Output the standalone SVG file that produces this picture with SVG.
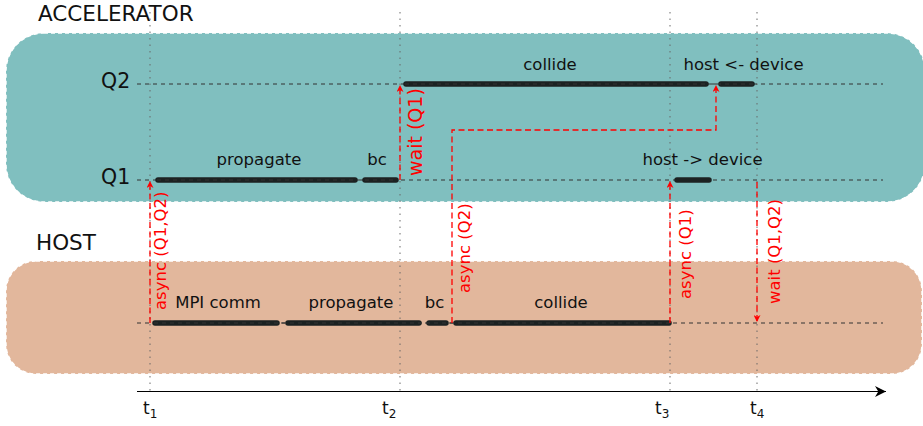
<svg xmlns="http://www.w3.org/2000/svg" width="923" height="426" viewBox="0 0 923 426">
<defs>
<marker id="ra" viewBox="0 0 10 10" refX="10" refY="5" markerWidth="9" markerHeight="7" markerUnits="userSpaceOnUse" orient="auto"><path d="M0,0 L10,5 L0,10 L3,5 Z" fill="#ff0000"/></marker>
<marker id="ka" viewBox="0 0 10 10" refX="10" refY="5" markerWidth="14" markerHeight="11" markerUnits="userSpaceOnUse" orient="auto"><path d="M0,0 L10,5 L0,10 L3,5 Z" fill="#000"/></marker>
</defs>
<style>
text{font-family:"DejaVu Sans","Liberation Sans",sans-serif;fill:#111}
.region{stroke:#fff;stroke-width:1.4;stroke-dasharray:4,3}
.lane{stroke:#333;stroke-width:1;stroke-dasharray:4,4;fill:none}
.tick{stroke:#666;stroke-opacity:0.6;stroke-width:1.6;stroke-dasharray:1.5,5;fill:none}
.bar{stroke:#1c2222;stroke-width:5.5;stroke-linecap:round;fill:none}
.sig{stroke:#ff0000;stroke-width:1.3;stroke-dasharray:6,3.5;fill:none}
.lbl{font-size:16.5px;text-anchor:middle}
.rl{font-size:16.5px;fill:#ff0000}
.big{font-size:21.5px}
.q{font-size:20.5px}
.t{font-size:17px}
.sub{font-size:12px}
</style>
<g id="accelerator">
<rect class="region" x="6" y="33" width="919" height="169" rx="38" fill="#80bfbf"/>
<text class="big" x="38" y="21">ACCELERATOR</text>
</g>
<g id="host">
<rect class="region" x="6" y="261" width="916" height="113" rx="30" fill="#e2b79c"/>
<text class="big" x="36" y="250">HOST</text>
</g>
<g id="ticks">
<line class="tick" x1="150" y1="12" x2="150" y2="391"/>
<line class="tick" x1="400" y1="12" x2="400" y2="391"/>
<line class="tick" x1="670" y1="12" x2="670" y2="391"/>
<line class="tick" x1="757" y1="12" x2="757" y2="391"/>
</g>
<g id="Q2">
<text class="q" x="101" y="88">Q2</text>
<line class="lane" x1="137" y1="84" x2="883" y2="84"/>
<line class="bar" x1="406" y1="84" x2="706" y2="84"/>
<line class="bar" x1="721" y1="84" x2="752" y2="84"/>
<line class="lane" x1="405" y1="84" x2="753" y2="84" stroke="#555"/>
<text class="lbl" x="550" y="70">collide</text>
<text class="lbl" x="743.5" y="70">host &lt;- device</text>
</g>
<g id="Q1">
<text class="q" x="101" y="184">Q1</text>
<line class="lane" x1="137" y1="180" x2="883" y2="180"/>
<line class="bar" x1="158" y1="180" x2="355" y2="180"/>
<line class="bar" x1="365" y1="180" x2="396" y2="180"/>
<line class="bar" x1="677" y1="180" x2="709" y2="180"/>
<line class="lane" x1="157" y1="180" x2="397" y2="180" stroke="#555"/>
<text class="lbl" x="259" y="165">propagate</text>
<text class="lbl" x="377" y="165">bc</text>
<text class="lbl" x="702.5" y="165">host -&gt; device</text>
</g>
<g id="hostlane">
<line class="lane" x1="137" y1="323" x2="883" y2="323"/>
<line class="bar" x1="155" y1="323" x2="277" y2="323"/>
<line class="bar" x1="288" y1="323" x2="419" y2="323"/>
<line class="bar" x1="429" y1="323" x2="446" y2="323"/>
<line class="bar" x1="456" y1="323" x2="669" y2="323"/>
<line class="lane" x1="154" y1="323" x2="670" y2="323" stroke="#555"/>
<text class="lbl" x="218" y="308">MPI comm</text>
<text class="lbl" x="351" y="308">propagate</text>
<text class="lbl" x="434.5" y="308">bc</text>
<text class="lbl" x="561" y="308">collide</text>
</g>
<g id="connectors">
<path class="sig" d="M150,323 V181" marker-end="url(#ra)"/>
<path class="sig" d="M400,180 V85" marker-end="url(#ra)"/>
<path class="sig" d="M452,323 V130 H716 V85" marker-end="url(#ra)"/>
<path class="sig" d="M670,323 V181" marker-end="url(#ra)"/>
<path class="sig" d="M757,182 V322" marker-end="url(#ra)"/>
<text class="rl" transform="translate(166,310) rotate(-90)">async (Q1,Q2)</text>
<text class="rl" transform="translate(422,176) rotate(-90)" style="font-size:19px">wait (Q1)</text>
<text class="rl" transform="translate(470,293) rotate(-90)">async (Q2)</text>
<text class="rl" transform="translate(691,299) rotate(-90)">async (Q1)</text>
<text class="rl" transform="translate(780,304) rotate(-90)">wait (Q1,Q2)</text>
</g>
<g id="axis">
<line x1="137" y1="391.5" x2="886" y2="391.5" stroke="#000" stroke-width="1.2" marker-end="url(#ka)"/>
<text class="t" x="143" y="414">t<tspan class="sub" dy="4">1</tspan></text>
<text class="t" x="382" y="414">t<tspan class="sub" dy="4">2</tspan></text>
<text class="t" x="655" y="414">t<tspan class="sub" dy="4">3</tspan></text>
<text class="t" x="750" y="414">t<tspan class="sub" dy="4">4</tspan></text>
</g>
</svg>
